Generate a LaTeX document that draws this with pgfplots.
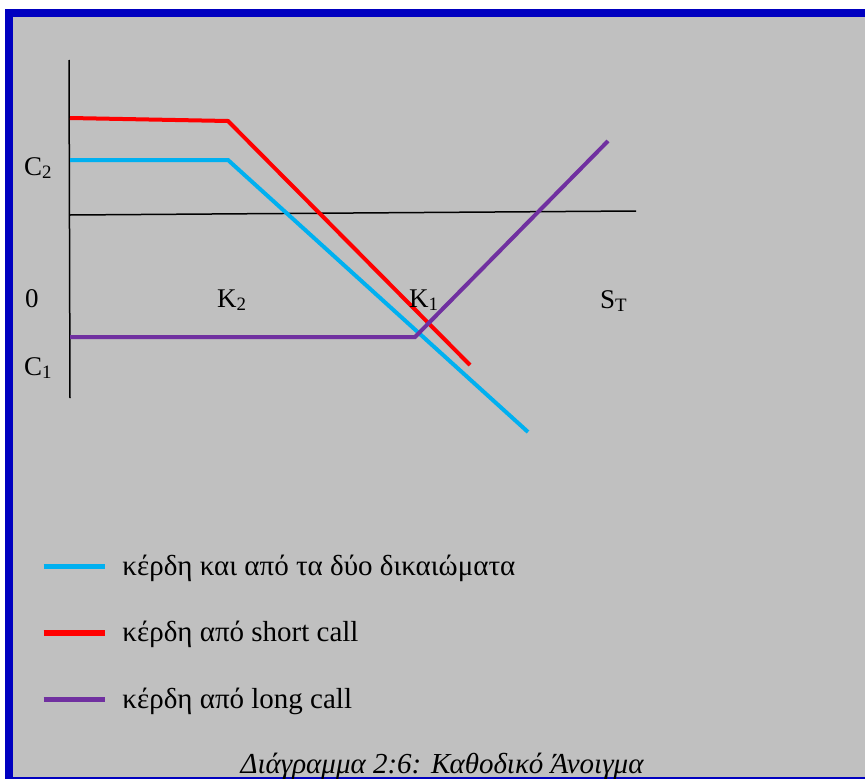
\documentclass[border=0pt]{standalone}
\usepackage{pgfplots}
\pgfplotsset{compat=1.18}
\usepackage{fontspec}
\setmainfont{Liberation Serif}
\definecolor{bgGray}{HTML}{C0C0C0}
\definecolor{frameBlue}{HTML}{0000C0}
\definecolor{cCyan}{HTML}{00B0F0}
\definecolor{cRed}{HTML}{FF0000}
\definecolor{cPurple}{HTML}{7030A0}
\newcommand\lbl{\fontsize{27}{31}\selectfont}
\newcommand\leg{\fontsize{29}{33}\selectfont}
\begin{document}
\begin{tikzpicture}
\path[use as bounding box, clip] (0,0) rectangle (865pt,779pt);
\begin{axis}[
  at={(0,0)}, anchor=south west,
  scale only axis, width=865pt, height=779pt,
  xmin=0, xmax=865, ymin=0, ymax=779, y dir=reverse,
  hide axis, clip=false,
  legend cell align=left,
  legend image code/.code={\draw[#1, line width=5.5pt] (0pt,2.5pt) -- (61pt,2.5pt);},
  legend style={at={(axis cs:41,556)}, anchor=north west, draw=none, fill=none,
    inner sep=0pt, outer sep=0pt, row sep=40.5pt, font=\leg,
    nodes={inner sep=0pt, text height=19pt, text depth=7pt},
    /tikz/every odd column/.style={column sep=15pt}},
]
\fill[frameBlue] (axis cs:5,9) rectangle (axis cs:875,790);
\fill[bgGray] (axis cs:13,17) rectangle (axis cs:875,776.5);
% axes
\addplot[black, line width=1.5pt, forget plot] coordinates {(69,60) (70,398)};
\addplot[black, line width=1.5pt, forget plot] coordinates {(70,215) (636,211)};
% series
\addplot[cCyan, line width=4pt] coordinates {(70,160) (228,160) (528,432)};
\addlegendentry{κέρδη και από τα δύο δικαιώματα}
\addplot[cRed, line width=4pt] coordinates {(70,118) (228,121) (470,365)};
\addlegendentry{κέρδη από short call}
\addplot[cPurple, line width=4pt] coordinates {(70,337) (415,337) (608,141)};
\addlegendentry{κέρδη από long call}
% labels
\node[anchor=base west, inner sep=0pt, font=\lbl] at (axis cs:24,175) {C\textsubscript{2}};
\node[anchor=base west, inner sep=0pt, font=\lbl] at (axis cs:25,307) {0};
\node[anchor=base west, inner sep=0pt, font=\lbl] at (axis cs:217,307) {K\textsubscript{2}};
\node[anchor=base west, inner sep=0pt, font=\lbl] at (axis cs:409,307) {K\textsubscript{1}};
\node[anchor=base west, inner sep=0pt, font=\lbl] at (axis cs:600,308) {S\textsubscript{T}};
\node[anchor=base west, inner sep=0pt, font=\lbl] at (axis cs:24,375) {C\textsubscript{1}};
\node[anchor=base, inner sep=0pt, font=\leg\itshape] at (axis cs:442,773) {Διάγραμμα 2:6: Καθοδικό Άνοιγμα};
\end{axis}
\end{tikzpicture}
\end{document}
